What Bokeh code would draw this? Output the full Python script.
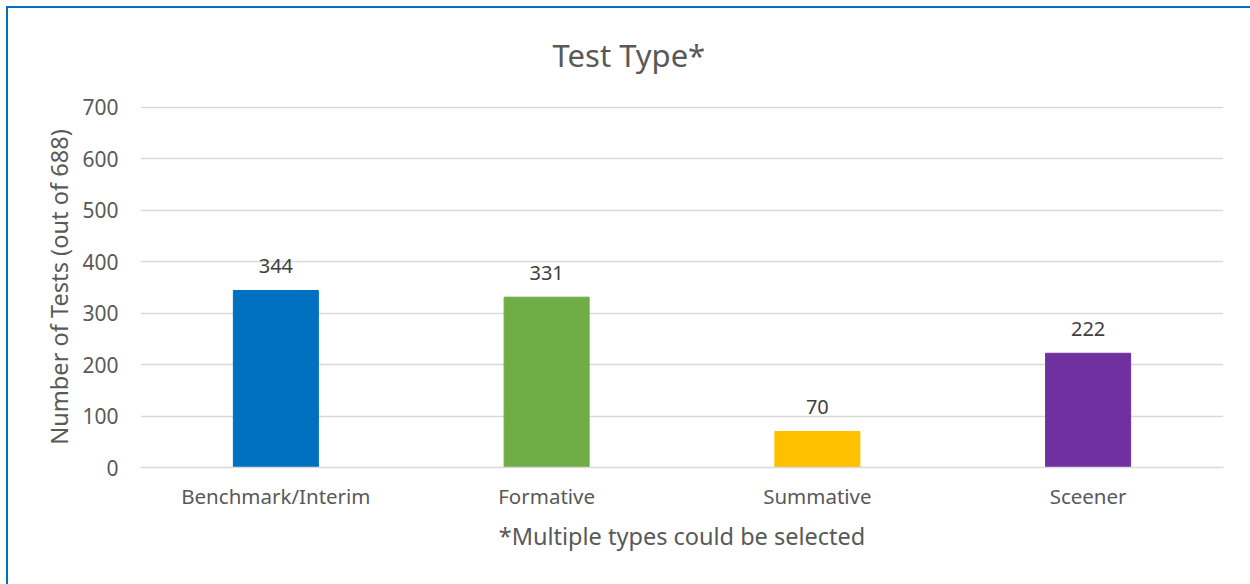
from bokeh.plotting import figure
from bokeh.models import ColumnDataSource, LabelSet, Range1d, FactorRange, FixedTicker, Title
from bokeh.core.properties import value
from bokeh.embed import file_html
from bokeh.resources import INLINE

categories = ["Benchmark/Interim", "Formative", "Summative", "Sceener"]
counts = [344, 331, 70, 222]
colors = ["#0070C0", "#70AD47", "#FFC000", "#7030A0"]
y_ticks = [0, 100, 200, 300, 400, 500, 600, 700]

FONT = "Noto Sans"
TXT = "#595959"

src = ColumnDataSource(dict(cat=categories, val=counts, color=colors,
                            lbl=[str(v) for v in counts]))

p = figure(width=1250, height=584, output_backend="svg", toolbar_location=None,
           x_range=FactorRange(*categories, range_padding=0),
           y_range=Range1d(0, 701.5),
           min_border_left=140, min_border_right=27, min_border_top=106,
           min_border_bottom=117, title=None)

p.add_layout(Title(text="Test Type*", align="left", vertical_align="top",
                   text_font=FONT, text_font_size="31px",
                   text_font_style="normal", text_color=TXT,
                   standoff=58, offset=412), "above")

p.vbar(x="cat", top="val", width=0.314, color="color", source=src)

labels = LabelSet(x="cat", y="val", text="lbl", source=src, y_offset=17,
                  text_align="center", text_baseline="bottom",
                  text_font=value(FONT), text_font_size="20px",
                  text_color="#404040")
p.add_layout(labels)

p.outline_line_color = None
p.background_fill_color = "white"
p.border_fill_color = None
p.styles = {"background-color": "white",
            "box-shadow": "inset 6px 6px 0 0 white, inset 8px 8px 0 0 #0070C0"}

p.xgrid.grid_line_color = None
p.ygrid.grid_line_color = "#D9D9D9"
p.ygrid.grid_line_width = 1.5
p.ygrid.ticker = FixedTicker(ticks=y_ticks)

p.yaxis.ticker = FixedTicker(ticks=y_ticks)
p.yaxis.axis_line_color = None
p.yaxis.major_tick_line_color = None
p.yaxis.minor_tick_line_color = None
p.yaxis.major_label_standoff = 16
p.yaxis.major_label_text_font = FONT
p.yaxis.major_label_text_font_size = "21px"
p.yaxis.major_label_text_color = TXT
p.yaxis.axis_label = "Number of Tests (out of 688)"
p.yaxis.axis_label_text_font = FONT
p.yaxis.axis_label_text_font_size = "23.6px"
p.yaxis.axis_label_text_font_style = "normal"
p.yaxis.axis_label_text_color = TXT
p.yaxis.axis_label_standoff = 4

p.xaxis.axis_line_color = "#D9D9D9"
p.xaxis.axis_line_width = 1.5
p.xaxis.major_tick_line_color = None
p.xaxis.minor_tick_line_color = None
p.xaxis.major_label_standoff = 8
p.xaxis.major_label_text_font = FONT
p.xaxis.major_label_text_font_size = "20.5px"
p.xaxis.major_label_text_color = TXT
p.xaxis.axis_label = "*Multiple types could be selected"
p.xaxis.axis_label_text_font = FONT
p.xaxis.axis_label_text_font_size = "23.5px"
p.xaxis.axis_label_text_font_style = "normal"
p.xaxis.axis_label_text_color = TXT
p.xaxis.axis_label_standoff = 7

open("out.html", "w").write(file_html(p, INLINE))
